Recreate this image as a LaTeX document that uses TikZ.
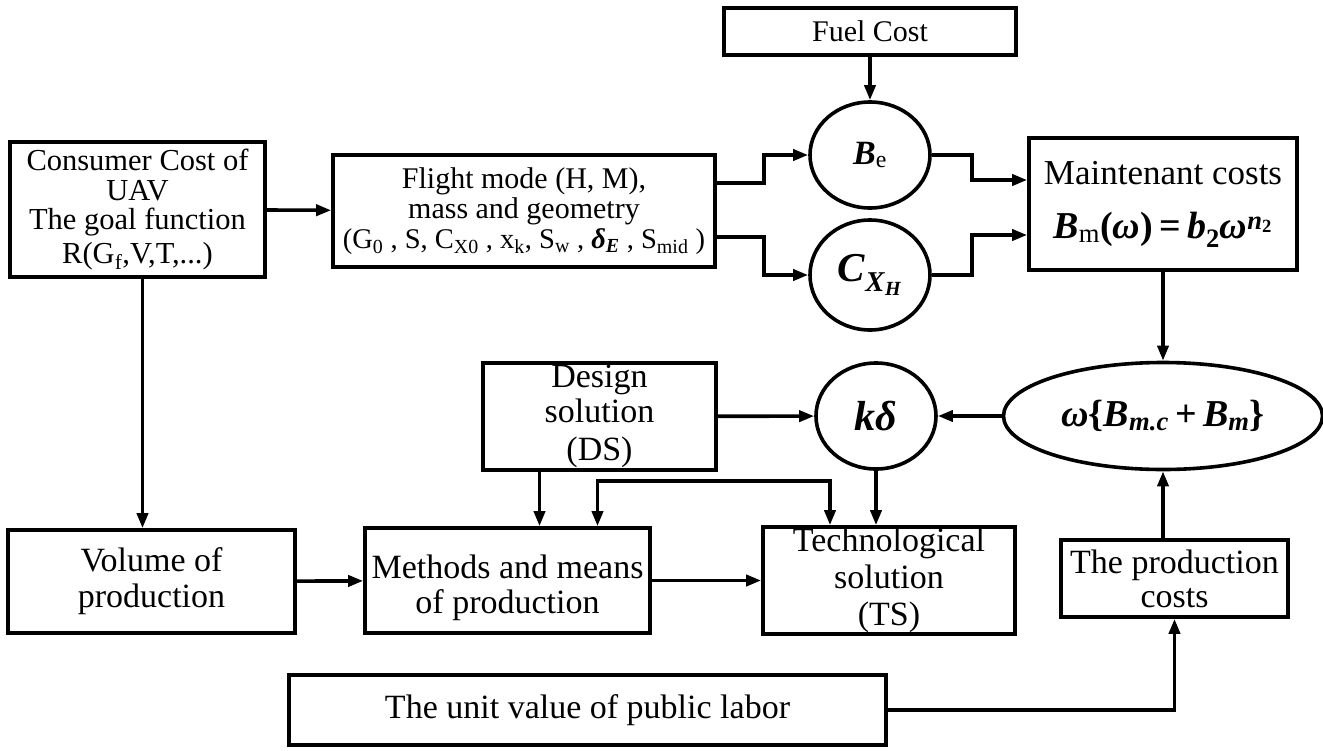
\documentclass[tikz,border=0pt]{standalone}
\usepackage{fontspec}
\setmainfont{Liberation Serif}
\usetikzlibrary{positioning, calc, arrows.meta, shapes.geometric}
\newcommand{\fsz}[2]{\fontsize{#1}{#2}\selectfont\lineskiplimit=-\maxdimen}

\begin{document}
\begin{tikzpicture}[x=1pt, y=-1pt,
    blk/.style={draw, line width=3.6pt, align=center, inner sep=0pt},
    circ/.style={draw, ellipse, line width=3.6pt, minimum width=120pt, minimum height=106pt, inner sep=0pt},
    arr/.style={line width=3.6pt, -{Triangle[length=15pt, width=11pt]}},
    arrs/.style={line width=3.6pt, {Triangle[length=15pt, width=11pt]}-{Triangle[length=15pt, width=11pt]}}]
    \useasboundingbox (0,0) rectangle (1323,750);

    \node[blk, minimum width=255pt, minimum height=135pt, font=\fsz{30.5}{29.5}] (cons) at (137.5,209.5)
        {Consumer Cost of\\UAV\\The goal function\\[4pt]R(G\textsubscript{f},V,T,...)};
    \node[blk, minimum width=382pt, minimum height=112pt, font=\fsz{30}{30}] (flight) at (524,211)
        {Flight mode (H, M),\\mass and geometry\\{\fsz{28.5}{30}(G\textsubscript{0} , S, C\textsubscript{X0} , x\textsubscript{k}, S\textsubscript{w} , \textbf{\textit{δ}}\textsubscript{\textbf{\textit{E}}} , S\textsubscript{mid} )}};
    \node[blk, minimum width=292pt, minimum height=47pt, font=\fsz{30}{30}] (fuel) at (870,31.5) {Fuel Cost};
    \node[circ, font=\fsz{34}{34}] (be) at (870,155) {\textbf{\textit{B}}\textsubscript{e}};
    \node[circ, minimum height=110pt, font=\fsz{41}{41}] (cx) at (870,275)
        {\textbf{\textit{C}}\textsubscript{\textbf{\textit{X}}\textsubscript{\textbf{\textit{H}}}}};
    \node[blk, minimum width=268pt, minimum height=132pt, font=\fsz{35}{35}] (maint) at (1163,204)
        {Maintenant costs\\[19pt]{\fsz{38}{38}\textbf{\textit{B}}\textsubscript{m}\textbf{(\textit{ω})\,=\,\textit{b}}\textsubscript{\textbf{2}}\textbf{\textit{ω}}\textsuperscript{\textbf{\textit{n}}\textsubscript{\textbf{2}}}}};
    \node[circ, minimum width=319pt, minimum height=107pt, font=\fsz{38}{38}] (wsum) at (1163,416)
        {\textbf{\textit{ω}\{\textit{B}}\textsubscript{\textbf{\textit{m.c}}}\textbf{\,+\,\textit{B}}\textsubscript{\textbf{\textit{m}}}\textbf{\}}};
    \node[blk, minimum width=233pt, minimum height=107pt, font=\fsz{34}{35}] (ds) at (599.5,416.5)
        {Design\\solution\\[3pt](DS)};
    \node[circ, font=\fsz{42}{42}] (kd) at (876,416) {\textbf{\textit{kδ}}};
    \node[blk, minimum width=287pt, minimum height=103pt, font=\fsz{34}{36}] (vol) at (151.5,581.5)
        {Volume of\\production};
    \node[blk, minimum width=285pt, minimum height=105pt, font=\fsz{34}{35}] (meth) at (507.5,580.5)
        {\rule{0pt}{38pt}Methods and means\\of production};
    \node[blk, minimum width=252pt, minimum height=107pt, font=\fsz{34}{37}] (ts) at (889,580.5)
        {Technological\\solution\\(TS)};
    \node[blk, minimum width=227pt, minimum height=77pt, font=\fsz{34}{34}] (prod) at (1174.5,578.5)
        {The production\\costs};
    \node[blk, minimum width=597pt, minimum height=70pt, font=\fsz{34}{34}] (unit) at (587.5,710)
        {The unit value of public labor};

    \draw[arr] (cons) -- (flight);
    \draw[arr] ([xshift=5pt]cons.south) -- ([xshift=5pt]cons.south |- vol.north);
    \draw[arr] (fuel) -- (be);
    \draw[arr] ([yshift=28pt]flight.east) -- ++(47,0) |- (be);
    \draw[arr] ([yshift=-26pt]flight.east) -- ++(47,0) |- (cx);
    \draw[arr] (be.east) -- ++(40,0) |- ([yshift=24pt]maint.west);
    \draw[arr] (cx.east) -- ++(40,0) |- ([yshift=-31pt]maint.west);
    \draw[arr] (maint) -- (wsum);
    \draw[arr] (wsum) -- (kd);
    \draw[arr] (ds) -- (kd);
    \draw[arr] ([xshift=-60pt]ds.south) -- ([xshift=-60pt]ds.south |- meth.north);
    \draw[arrs] ([xshift=90pt]meth.north) -- ++(0,-45) -| ([xshift=-59pt]ts.north);
    \draw[arr] (kd) -- (kd |- ts.north);
    \draw[arr] (vol) -- (meth);
    \draw[arr] (meth) -- (ts);
    \draw[arr] (prod.north -| wsum) -- (wsum);
    \draw[arr] (unit) -| (prod);
\end{tikzpicture}
\end{document}
